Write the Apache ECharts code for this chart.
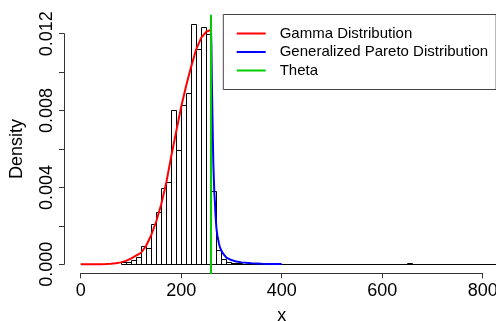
<!DOCTYPE html>
<html>
<head>
<meta charset="utf-8">
<script src="https://cdn.jsdelivr.net/npm/echarts@6/dist/echarts.min.js"></script>
<style>
html,body{margin:0;padding:0;background:#fff;}
#chart{width:496px;height:321px;}
</style>
</head>
<body>
<div id="chart"></div>
<script>
// ---- data ----
const binStart = 80;          // left edge of first histogram bin
const binWidth = 10;          // histogram bin width
const histDensity = [
  0.0001, 0.0001, 0.0002, 0.0004, 0.00095, 0.00086, 0.00208, 0.0027, 0.00396, 0.00427,
  0.00803, 0.00595, 0.00829, 0.00893, 0.01249, 0.01119, 0.01233, 0.0120, 0.00383, 0.00074,
  0.0003, 0.00014, 0.00005, 0.00005, 0, 0.00005, 0, 0, 0, 0,
  0, 0, 0, 0, 0, 0, 0, 0, 0, 0,
  0, 0, 0, 0, 0, 0, 0, 0, 0, 0,
  0, 0, 0, 0, 0, 0, 0, 0.00005, 0, 0,
  0, 0, 0, 0, 0, 0, 0, 0, 0, 0,
  0, 0, 0, 0, 0, 0
];
const gammaX = [0, 10, 20, 30, 40, 50, 60, 70, 80, 90, 100, 110, 120, 130, 140, 150, 160, 170, 180, 190, 200, 210, 220, 230, 240, 250, 259.3];
const gammaY = [0, 0, 0, 0, 0.000002, 0.00001, 0.00003, 0.00006, 0.0001, 0.00018, 0.0003, 0.00045, 0.0006, 0.00095, 0.0015, 0.0022, 0.0031, 0.0042, 0.0056, 0.0069, 0.0082, 0.0093, 0.0103, 0.0112, 0.0118, 0.0121, 0.0122];
const gpdX = [259.3, 260, 261, 262, 263, 264, 265, 266, 267, 268, 270, 272, 275, 277, 280, 285, 290, 300, 310, 320, 340, 360, 380, 400];
const gpdY = [0.0122, 0.0115, 0.0095, 0.0080, 0.0065, 0.0052, 0.0044, 0.0037, 0.0033, 0.0027, 0.0019, 0.0015, 0.0011, 0.0009, 0.0007, 0.0005, 0.00035, 0.00022, 0.00014, 0.0001, 0.00005, 0.00003, 0.00002, 0.00001];
const theta = 259.3;
const seriesNames = ['Gamma Distribution', 'Generalized Pareto Distribution', 'Theta'];
const seriesColors = ['#FF0000', '#0000FF', '#00CD00'];

// plot-region limits (R extends the axis range by 4%)
const yRegionTop = 0.01299;
const yRegionBottom = -0.0005;

const FONT = '"Liberation Sans", Arial, Helvetica, sans-serif';

const histData = histDensity.map((d, i) => [binStart + i * binWidth, binStart + (i + 1) * binWidth, d]);
const gammaData = gammaX.map((x, i) => [x, gammaY[i]]);
const gpdData = gpdX.map((x, i) => [x, gpdY[i]]);

const chart = echarts.init(document.getElementById('chart'), null, {renderer: 'canvas'});

const axisLineStyle = {color: '#333', width: 1};

const option = {
  animation: false,
  backgroundColor: '#ffffff',
  grid: [
    // 0: data area
    {left: 80.7, right: 13.3, top: 33.7, bottom: 56.7, containLabel: false, outerBoundsMode: 'none'},
    // 1: carries the detached x axis
    {left: 80.7, right: 13.3, top: 33.7, bottom: 47.7, containLabel: false, outerBoundsMode: 'none'},
    // 2: carries the detached y axis
    {left: 64, right: 13.3, top: 33.7, bottom: 56.7, containLabel: false, outerBoundsMode: 'none'}
  ],
  xAxis: [
    {gridIndex: 0, type: 'value', min: 0, max: 800, show: false},
    {
      gridIndex: 1, type: 'value', min: 0, max: 800, interval: 200,
      axisLine: {show: true, lineStyle: axisLineStyle},
      axisTick: {show: true, length: 5, lineStyle: axisLineStyle},
      axisLabel: {fontSize: 18, color: '#000', fontFamily: FONT, margin: 9},
      splitLine: {show: false},
      name: 'x', nameLocation: 'middle', nameGap: 34,
      nameTextStyle: {fontSize: 18, color: '#000', fontFamily: FONT}
    },
    {gridIndex: 2, type: 'value', min: 0, max: 1, show: false}
  ],
  yAxis: [
    {gridIndex: 0, type: 'value', min: 0, max: 0.012, show: false},
    {gridIndex: 1, type: 'value', min: 0, max: 1, show: false},
    {
      gridIndex: 2, type: 'value', min: 0, max: 0.012, interval: 0.002,
      axisLine: {show: true, lineStyle: axisLineStyle},
      axisTick: {show: true, length: 5, lineStyle: axisLineStyle},
      axisLabel: {
        fontSize: 18, color: '#000', fontFamily: FONT, rotate: 90, margin: 8,
        formatter: v => (Math.round(v / 0.002) % 2 === 0 ? v.toFixed(3) : '')
      },
      splitLine: {show: false},
      name: 'Density', nameLocation: 'middle', nameGap: 38, nameRotate: 90,
      nameTextStyle: {fontSize: 18, color: '#000', fontFamily: FONT}
    }
  ],
  legend: {
    show: true, orient: 'vertical', left: 223.3, top: 14.5,
    itemWidth: 29, itemHeight: 2, itemGap: 2.5,
    padding: [11, 8, 11, 13.4],
    borderColor: '#444', borderWidth: 1, backgroundColor: '#fff',
    selectedMode: false,
    textStyle: {fontSize: 15, color: '#000', fontFamily: FONT, lineHeight: 16, padding: [0, 0, 0, 9]},
    data: seriesNames.map((n, i) => ({name: n, icon: 'rect', itemStyle: {color: seriesColors[i]}}))
  },
  series: [
    {
      name: 'Histogram', type: 'custom', z: 1, clip: false,
      xAxisIndex: 0, yAxisIndex: 0,
      data: histData,
      encode: {x: [0, 1], y: 2},
      renderItem: (params, api) => {
        const x0 = api.value(0), x1 = api.value(1), d = api.value(2);
        const pTop = api.coord([x0, d]);
        const pBot = api.coord([x1, 0]);
        const left = Math.round(pTop[0]) + 0.5;
        const right = Math.round(pBot[0]) + 0.5;
        const top = Math.round(pTop[1]) + 0.5;
        const bottom = Math.round(pBot[1]) + 0.5;
        return {
          type: 'rect',
          shape: {x: left, y: top, width: right - left, height: bottom - top},
          style: {fill: 'rgba(0,0,0,0)', stroke: '#000', lineWidth: 1}
        };
      }
    },
    {
      name: seriesNames[0], type: 'line', z: 3, clip: false,
      xAxisIndex: 0, yAxisIndex: 0,
      data: gammaData, showSymbol: false, symbol: 'none',
      lineStyle: {color: seriesColors[0], width: 2},
      itemStyle: {color: seriesColors[0]}
    },
    {
      name: seriesNames[1], type: 'line', z: 4, clip: false,
      xAxisIndex: 0, yAxisIndex: 0,
      data: gpdData, showSymbol: false, symbol: 'none',
      lineStyle: {color: seriesColors[1], width: 2},
      itemStyle: {color: seriesColors[1]}
    },
    {
      name: seriesNames[2], type: 'custom', z: 5, clip: false,
      xAxisIndex: 0, yAxisIndex: 0,
      data: [[theta]],
      encode: {x: 0},
      itemStyle: {color: seriesColors[2]},
      renderItem: (params, api) => {
        const x = api.value(0);
        const a = api.coord([x, yRegionTop]);
        const b = api.coord([x, yRegionBottom]);
        return {
          type: 'line',
          shape: {x1: a[0], y1: a[1], x2: b[0], y2: b[1]},
          style: {stroke: seriesColors[2], lineWidth: 2}
        };
      }
    }
  ]
};
chart.setOption(option);
</script>
</body>
</html>
